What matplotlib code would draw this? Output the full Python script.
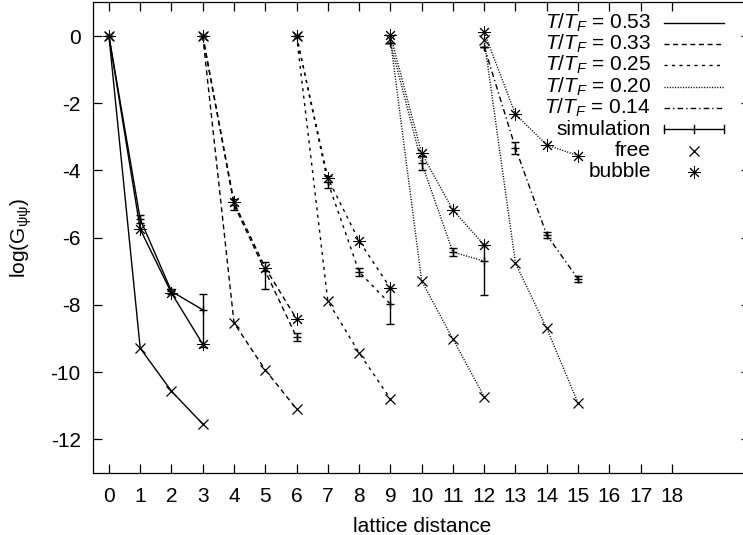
import numpy as np
import matplotlib
matplotlib.use("Agg")
import matplotlib.pyplot as plt

plt.rcParams['font.family'] = ['Liberation Sans', 'DejaVu Sans']
plt.rcParams['mathtext.fontset'] = 'custom'
plt.rcParams['mathtext.rm'] = 'Liberation Sans'
plt.rcParams['mathtext.it'] = 'Liberation Sans:italic'
plt.rcParams['axes.unicode_minus'] = False

# data
temps = ["0.53", "0.33", "0.25", "0.20", "0.14"]
offsets = [0, 3, 6, 9, 12]
dist = [0, 1, 2, 3]

sim = [[0, -5.45, -7.60, -8.15],
       [0, -5.02, -7.00, -8.96],
       [0, -4.35, -7.02, -7.98],
       [-0.20, -3.78, -6.43, -6.70],
       [-0.32, -3.33, -5.92, -7.23]]
sim_lo = [[0, 0.12, 0.08, 1.10],
          [0, 0.17, 0.52, 0.12],
          [0, 0.18, 0.12, 0.59],
          [0, 0.22, 0.12, 1.01],
          [0, 0.17, 0.10, 0.08]]
sim_hi = [[0, 0.12, 0.08, 0.47],
          [0, 0.17, 0.28, 0.12],
          [0, 0.18, 0.12, 0.48],
          [0, 0.22, 0.12, 0.48],
          [0, 0.17, 0.10, 0.08]]
free = [[0, -9.29, -10.57, -11.55],
        [0, -8.54, -9.94, -11.10],
        [0, -7.89, -9.43, -10.80],
        [-0.10, -7.29, -9.02, -10.74],
        [-0.12, -6.76, -8.70, -10.92]]
bubble = [[0, -5.75, -7.65, -9.17],
          [0, -4.95, -6.90, -8.42],
          [0, -4.23, -6.10, -7.50],
          [0.03, -3.49, -5.18, -6.22],
          [0.11, -2.33, -3.24, -3.56]]

ls_sim = ['-', (0, (3.6, 2.6)), (0, (2.2, 3.2)), (0, (0.8, 1.1)),
          (0, (4.0, 2.2, 1.0, 2.2))]
ls_model = ['-', (0, (3.6, 2.6)), (0, (2.2, 3.2)), (0, (0.8, 1.1)),
            (0, (0.8, 1.1))]

asterisk = (8, 2, 0)

W, H = 743, 535
fig = plt.figure(figsize=(W / 100, H / 100), dpi=100)
ax = fig.add_axes([93.3 / W, (H - 472.8) / H, (750 - 93.3) / W, (472.8 - 2.4) / H])

for i in range(5):
    x = np.array(dist) + offsets[i]
    ax.plot(x, sim[i], color='k', lw=1, linestyle=ls_sim[i])
    ax.errorbar(x, sim[i], yerr=[sim_lo[i], sim_hi[i]], fmt='+', color='k',
                ms=6, mew=1, elinewidth=1, capsize=3, capthick=1)
    ax.plot(x, free[i], color='k', lw=1, linestyle=ls_model[i],
            marker='x', ms=7, mew=0.9)
    ax.plot(x, bubble[i], color='k', lw=1, linestyle=ls_model[i],
            marker=asterisk, ms=9, mew=0.7)

ax.set_xlim(-0.5, 20.5)
ax.set_ylim(-13, 1)
ax.set_xticks(range(19))
ax.set_yticks(range(-12, 1, 2))
ax.tick_params(direction='in', length=6.5, width=0.9, top=True, right=True,
               labelsize=15)
ax.tick_params(axis='x', pad=10)
ax.tick_params(axis='y', pad=9)
for s in ax.spines.values():
    s.set_linewidth(0.9)
ax.set_xlabel("lattice distance", fontsize=15, labelpad=8)
ax.set_ylabel(r"log($\mathrm{G}_{\mathrm{\psi\psi}}$)", fontsize=15, labelpad=12)

# gnuplot style key
def fx(px):
    return px / W

def fy(py):
    return 1 - py / H

labels = [r"$T/T_F$ = " + t for t in temps] + ["simulation", "free", "bubble"]
x0, x1 = 664, 724
for k, lab in enumerate(labels):
    yy = 22.7 + 21.3 * k
    fig.text(fx(651), fy(yy), lab, ha='right', va='center', fontsize=15)
    if k < 5:
        ax.plot([fx(x0), fx(x1)], [fy(yy), fy(yy)], color='k', lw=1,
                linestyle=ls_sim[k], transform=fig.transFigure, clip_on=False)
    elif k == 5:
        ax.plot([fx(x0), fx(x1)], [fy(yy), fy(yy)], color='k', lw=1,
                transform=fig.transFigure, clip_on=False)
        for xc in [x0, (x0 + x1) / 2, x1]:
            ax.plot([fx(xc), fx(xc)], [fy(yy - 4), fy(yy + 4)], color='k',
                    lw=1, transform=fig.transFigure, clip_on=False)
    elif k == 6:
        ax.plot([fx((x0 + x1) / 2)], [fy(yy)], color='k', marker='x', ms=7,
                mew=0.9, transform=fig.transFigure, clip_on=False)
    else:
        ax.plot([fx((x0 + x1) / 2)], [fy(yy)], color='k', marker=asterisk,
                ms=9, mew=0.7, transform=fig.transFigure, clip_on=False)

fig.savefig("out.png", dpi=100)
